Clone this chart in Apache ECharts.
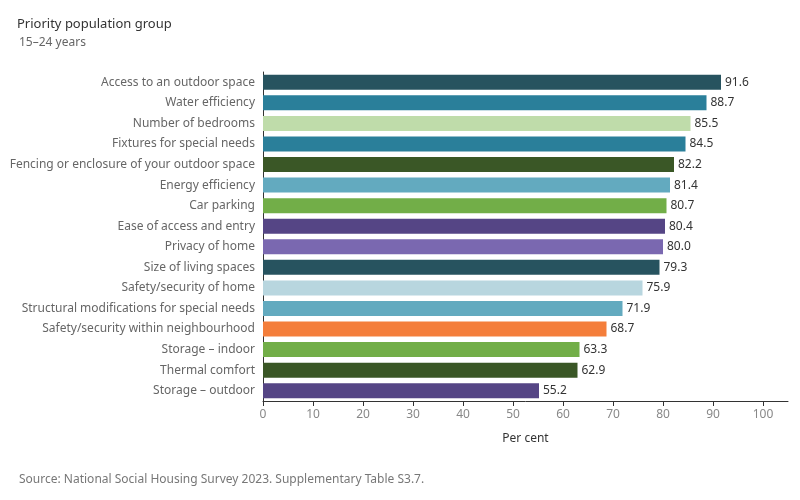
<!DOCTYPE html>
<html>
<head>
<meta charset="utf-8">
<script src="https://cdn.jsdelivr.net/npm/echarts@6/dist/echarts.min.js"></script>
<style>
    html, body { margin: 0; padding: 0; background: #fff; }
    #chart { width: 800px; height: 500px; }
</style>
</head>
<body>
<div id="chart"></div>
<script>
// categories, top to bottom
const categories = [
    "Access to an outdoor space",
    "Water efficiency",
    "Number of bedrooms",
    "Fixtures for special needs",
    "Fencing or enclosure of your outdoor space",
    "Energy efficiency",
    "Car parking",
    "Ease of access and entry",
    "Privacy of home",
    "Size of living spaces",
    "Safety/security of home",
    "Structural modifications for special needs",
    "Safety/security within neighbourhood",
    "Storage \u2013 indoor",
    "Thermal comfort",
    "Storage \u2013 outdoor"
];
const values = [91.6, 88.7, 85.5, 84.5, 82.2, 81.4, 80.7, 80.4, 80.0, 79.3, 75.9, 71.9, 68.7, 63.3, 62.9, 55.2];
const barColors = [
    "#27535f", "#2a7f9a", "#bfdcaa", "#2a7f9a", "#3a5726", "#63aabf", "#72ae48", "#554585",
    "#7a68b0", "#27535f", "#b8d6df", "#63aabf", "#f47e3b", "#72ae48", "#3a5726", "#554585"
];
const xTicks = [0, 10, 20, 30, 40, 50, 60, 70, 80, 90, 100];

const font = "'Noto Sans', sans-serif";
const chart = echarts.init(document.getElementById("chart"));
chart.setOption({
    animation: false,
    textStyle: { fontFamily: font },
    title: [
        {
            text: "Priority population group",
            left: 12, top: 13,
            textStyle: { fontSize: 13, fontWeight: "normal", color: "#333", fontFamily: font }
        },
        {
            text: "15\u201324 years",
            left: 14, top: 32,
            textStyle: { fontSize: 12, fontWeight: "normal", color: "#666", fontFamily: font }
        },
        {
            text: "Source: National Social Housing Survey 2023. Supplementary Table S3.7.",
            left: 14, top: 469,
            textStyle: { fontSize: 12, fontWeight: "normal", color: "#777", fontFamily: font }
        }
    ],
    grid: { left: 263, right: 12, top: 72, bottom: 99 },
    xAxis: {
        type: "value",
        min: 0,
        max: 105,
        name: "Per cent",
        nameLocation: "middle",
        nameGap: 32,
        nameTextStyle: { fontSize: 12, color: "#333" },
        splitLine: { show: false },
        axisLine: { show: true, lineStyle: { color: "#333" } },
        axisTick: { show: true, length: 5, lineStyle: { color: "#333" }, customValues: xTicks },
        axisLabel: { color: "#888", fontSize: 12, margin: 8, customValues: xTicks }
    },
    yAxis: {
        type: "category",
        inverse: true,
        data: categories,
        axisLine: { show: true, lineStyle: { color: "#333" } },
        axisTick: { show: false },
        axisLabel: { color: "#666", fontSize: 12, margin: 8 }
    },
    series: [{
        type: "bar",
        data: values.map((v, i) => ({ value: v, itemStyle: { color: barColors[i] } })),
        barCategoryGap: "27%",
        label: {
            show: true,
            position: "right",
            distance: 4,
            color: "#333",
            fontSize: 12,
            formatter: (p) => p.value.toFixed(1)
        }
    }]
});
</script>
</body>
</html>
